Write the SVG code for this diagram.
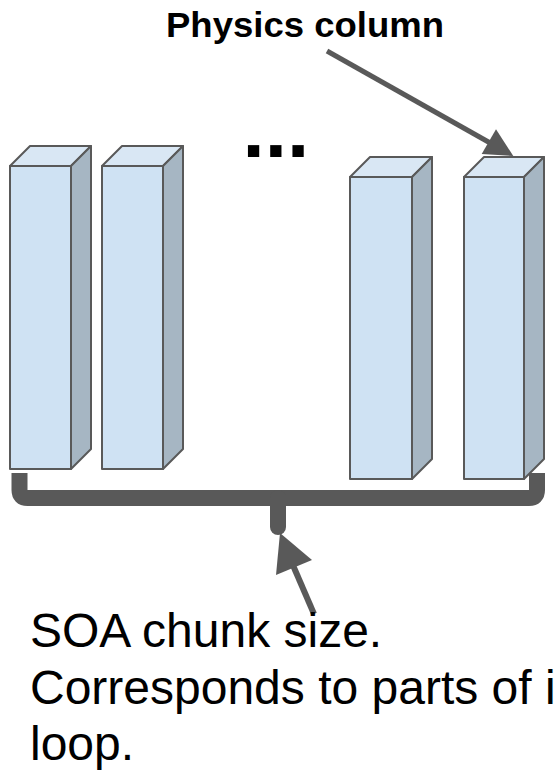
<svg xmlns="http://www.w3.org/2000/svg" width="556" height="771" viewBox="0 0 556 771">
<style>
.front{fill:#cfe2f3;stroke:#595959;stroke-width:2;stroke-linejoin:round}
.top{fill:#d9e7f4;stroke:#595959;stroke-width:2;stroke-linejoin:round}
.side{fill:#a6b6c3;stroke:#595959;stroke-width:2;stroke-linejoin:round}
.brace{fill:none;stroke:#595959;stroke-width:16}
.arrow{fill:none;stroke:#595959}
.head{fill:#595959}
.title{font-family:"Liberation Sans",Arial,sans-serif;font-weight:bold;font-size:35px;fill:#000}
.label{font-family:"Liberation Sans",Arial,sans-serif;font-size:48px;fill:#000}
.dots{font-family:"Liberation Sans",Arial,sans-serif;font-weight:bold;font-size:80px;fill:#000}
</style>
<rect width="556" height="771" fill="#ffffff"/>
<g id="col1">
<polygon class="top" points="10,166 30,146 91,146 71,166"/>
<polygon class="side" points="71,166 91,146 91,449 71,469"/>
<rect class="front" x="10" y="166" width="61" height="303"/>
</g>
<g id="col2">
<polygon class="top" points="102,166 122,146 183,146 163,166"/>
<polygon class="side" points="163,166 183,146 183,449 163,469"/>
<rect class="front" x="102" y="166" width="61" height="303"/>
</g>
<g id="col3">
<polygon class="top" points="350,177 370,157 432,157 412,177"/>
<polygon class="side" points="412,177 432,157 432,459 412,479"/>
<rect class="front" x="350" y="177" width="62" height="302"/>
</g>
<g id="col4">
<polygon class="top" points="464,177 484,157 544,157 524,177"/>
<polygon class="side" points="524,177 544,157 544,459 524,479"/>
<rect class="front" x="464" y="177" width="60" height="302"/>
</g>
<g id="dots">
<text class="dots" x="242.5" y="156.7">...</text>
</g>
<g id="brace">
<path class="brace" d="M19.5,473 V490 Q19.5,498 27.5,498 H529 Q537,498 537,490 V473"/>
<path class="brace" d="M278,498 V527" stroke-linecap="round"/>
</g>
<g id="connectors">
<line class="arrow" x1="327" y1="51" x2="492" y2="144" stroke-width="5"/>
<polygon class="head" points="513.3,156 481.7,154 496,129.3"/>
<line class="arrow" x1="314" y1="614" x2="292" y2="563" stroke-width="6"/>
<polygon class="head" points="280,533 312,560 276,575"/>
</g>
<g id="title">
<text class="title" x="305" y="37" text-anchor="middle" textLength="278" lengthAdjust="spacingAndGlyphs">Physics column</text>
</g>
<g id="label">
<text class="label" x="30" y="647">SOA chunk size.</text>
<text class="label" x="30" y="703.5">Corresponds to parts of i</text>
<text class="label" x="30" y="760">loop.</text>
</g>
</svg>
